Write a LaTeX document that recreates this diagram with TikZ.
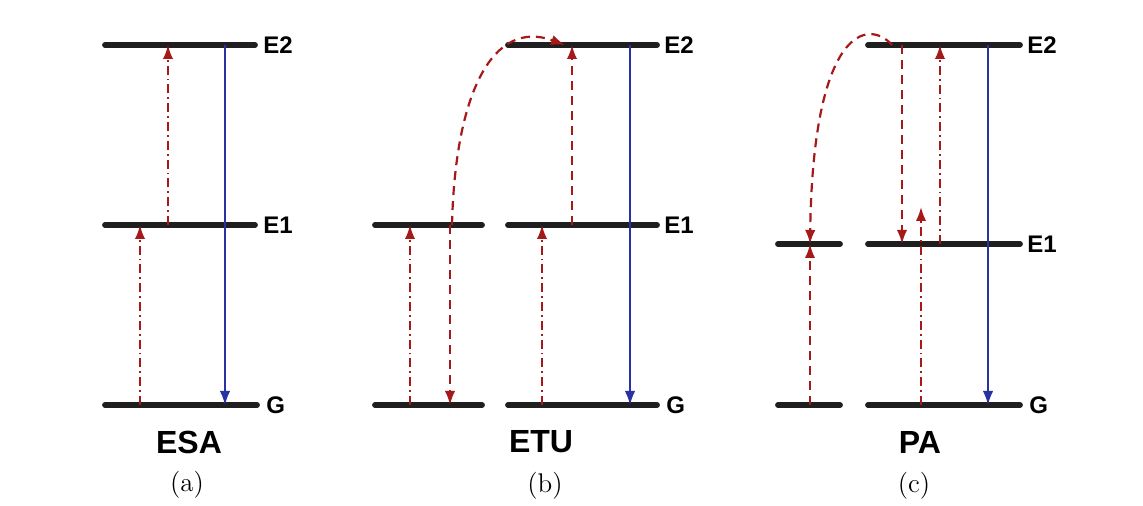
\documentclass[tikz,border=0pt]{standalone}
\usepackage{fontspec}
\newfontfamily\labfont{Liberation Sans}
\usetikzlibrary{arrows.meta}
\definecolor{exred}{RGB}{165,25,25}
\definecolor{emblue}{RGB}{40,50,165}
\tikzset{
  lvlline/.style={line width=2.9pt,line cap=round,black!88},
  lvl/.style={font=\labfont\bfseries\fontsize{12}{12}\selectfont,anchor=west,inner sep=0pt},
  titletext/.style={font=\labfont\bfseries\fontsize{16}{16}\selectfont,inner sep=0pt},
  captext/.style={font=\fontsize{13.5}{15}\selectfont,inner sep=0pt},
  arrtip/.style={-{Latex[length=7pt,width=5.2pt]}},
  dashdot/.style={arrtip,exred,line width=1pt,dash pattern=on 4.5pt off 2pt on 0.9pt off 2pt},
  dasharr/.style={arrtip,exred,line width=1.1pt,dash pattern=on 4.5pt off 3pt},
  emis/.style={arrtip,emblue,line width=0.8pt},
}
\begin{document}
\begin{tikzpicture}[x=0.5pt,y=-0.5pt]
\useasboundingbox (0,0) rectangle (1143,506);
% ---------- panel (a)
\coordinate (aE2l) at (105,45); \coordinate (aE2r) at (255,45);
\coordinate (aE1l) at (105,225); \coordinate (aE1r) at (255,225);
\coordinate (aGl) at (105,405); \coordinate (aGr) at (257,405);
\draw[lvlline] (aE2l) -- (aE2r);
\draw[lvlline] (aE1l) -- (aE1r);
\draw[lvlline] (aGl) -- (aGr);
\node[lvl] (aLE2) at (263,45) {E2};
\node[lvl] (aLE1) at (263,225) {E1};
\node[lvl] (aLG) at (266,405) {G};
\coordinate (a1s) at (140,405); \coordinate (a1e) at (140,225);
\coordinate (a2s) at (168,225); \coordinate (a2e) at (168,45);
\coordinate (a3s) at (225,45); \coordinate (a3e) at (225,405);
\draw[dashdot] (a1s) -- (a1e);
\draw[dashdot] (a2s) -- (a2e);
\draw[emis] (a3s) -- (a3e);
\node[titletext] (tA) at (189,442) {ESA};
\node[captext] (cA) at (187,485) {(a)};
% ---------- panel (b)
\coordinate (bE1l) at (375,225); \coordinate (bE1r) at (482,225);
\coordinate (bGl) at (375,405); \coordinate (bGr) at (482,405);
\coordinate (cE2l) at (508,45); \coordinate (cE2r) at (657,45);
\coordinate (cE1l) at (508,225); \coordinate (cE1r) at (657,225);
\coordinate (cGl) at (508,405); \coordinate (cGr) at (657,405);
\draw[lvlline] (bE1l) -- (bE1r);
\draw[lvlline] (bGl) -- (bGr);
\draw[lvlline] (cE2l) -- (cE2r);
\draw[lvlline] (cE1l) -- (cE1r);
\draw[lvlline] (cGl) -- (cGr);
\node[lvl] (bLE2) at (664,45) {E2};
\node[lvl] (bLE1) at (664,225) {E1};
\node[lvl] (bLG) at (666,405) {G};
\coordinate (b1s) at (410,405); \coordinate (b1e) at (410,225);
\coordinate (b2s) at (450,225); \coordinate (b2e) at (450,405);
\coordinate (b3s) at (542,405); \coordinate (b3e) at (542,225);
\coordinate (b4s) at (572,225); \coordinate (b4e) at (572,45);
\coordinate (b5s) at (630,45); \coordinate (b5e) at (630,405);
\coordinate (b6s) at (452,225); \coordinate (b6e) at (565,45);
\draw[dashdot] (b1s) -- (b1e);
\draw[dasharr] (b2s) -- (b2e);
\draw[dashdot] (b3s) -- (b3e);
\draw[dasharr] (b4s) -- (b4e);
\draw[emis] (b5s) -- (b5e);
\draw[dasharr] (b6s) .. controls (455,95) and (492,18) .. (b6e);
\node[titletext] (tB) at (541,442) {ETU};
\node[captext] (cB) at (545,486) {(b)};
% ---------- panel (c)
\coordinate (dE1l) at (778,244); \coordinate (dE1r) at (840,244);
\coordinate (dGl) at (778,405); \coordinate (dGr) at (840,405);
\coordinate (eE2l) at (868,45); \coordinate (eE2r) at (1020,45);
\coordinate (eE1l) at (868,244); \coordinate (eE1r) at (1020,244);
\coordinate (eGl) at (868,405); \coordinate (eGr) at (1020,405);
\draw[lvlline] (dE1l) -- (dE1r);
\draw[lvlline] (dGl) -- (dGr);
\draw[lvlline] (eE2l) -- (eE2r);
\draw[lvlline] (eE1l) -- (eE1r);
\draw[lvlline] (eGl) -- (eGr);
\node[lvl] (cLE2) at (1027,45) {E2};
\node[lvl] (cLE1) at (1027,244) {E1};
\node[lvl] (cLG) at (1029,405) {G};
\coordinate (c1s) at (810,405); \coordinate (c1e) at (810,244);
\coordinate (c2s) at (892,45); \coordinate (c2e) at (810,244);
\coordinate (c3s) at (902,45); \coordinate (c3e) at (902,244);
\coordinate (c4s) at (921,405); \coordinate (c4e) at (921,207);
\coordinate (c5s) at (940,244); \coordinate (c5e) at (940,45);
\coordinate (c6s) at (988,45); \coordinate (c6e) at (988,405);
\draw[dasharr] (c1s) -- (c1e);
\draw[dasharr] (c2s) .. controls (868,18) and (813,28) .. (c2e);
\draw[dasharr] (c3s) -- (c3e);
\draw[dashdot] (c4s) -- (c4e);
\draw[dashdot] (c5s) -- (c5e);
\draw[emis] (c6s) -- (c6e);
\node[titletext] (tC) at (920,442) {PA};
\node[captext] (cC) at (914,486) {(c)};
\end{tikzpicture}
\end{document}
